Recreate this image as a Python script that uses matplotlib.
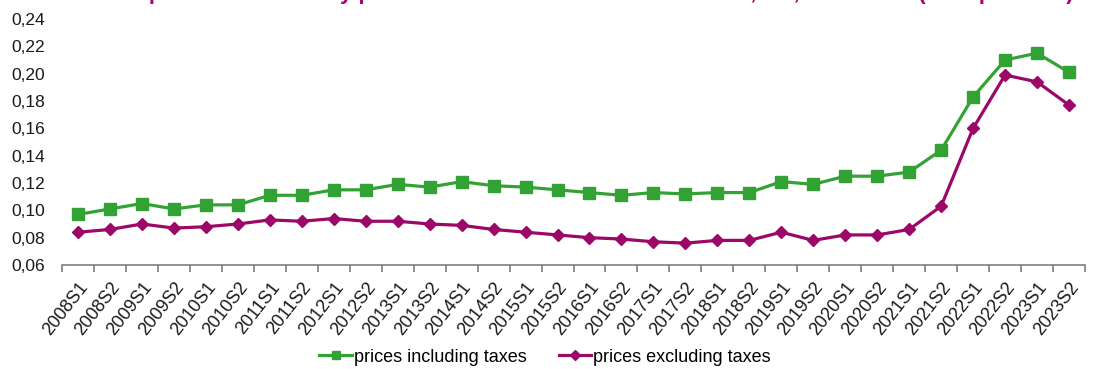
import matplotlib

matplotlib.use("Agg")
import matplotlib.pyplot as plt
from matplotlib.ticker import FixedLocator, FuncFormatter, MultipleLocator

plt.rcParams["font.family"] = ["Liberation Sans", "DejaVu Sans"]

periods = [f"{year}S{half}" for year in range(2008, 2024) for half in (1, 2)]

incl_taxes = [
    0.097, 0.101, 0.105, 0.101, 0.104, 0.104, 0.111, 0.111,
    0.115, 0.115, 0.119, 0.117, 0.121, 0.118, 0.117, 0.115,
    0.113, 0.111, 0.113, 0.112, 0.113, 0.113, 0.121, 0.119,
    0.125, 0.125, 0.128, 0.144, 0.183, 0.210, 0.215, 0.201,
]
excl_taxes = [
    0.084, 0.086, 0.090, 0.087, 0.088, 0.090, 0.093, 0.092,
    0.094, 0.092, 0.092, 0.090, 0.089, 0.086, 0.084, 0.082,
    0.080, 0.079, 0.077, 0.076, 0.078, 0.078, 0.084, 0.078,
    0.082, 0.082, 0.086, 0.103, 0.160, 0.199, 0.194, 0.177,
]

title = ("Development of electricity prices for non-household consumers, "
         "EU, 2008-2023 (EUR per kWh)")

GREEN = "#33a235"
PURPLE = "#9b0867"

W, H, DPI = 1094, 369, 100
fig = plt.figure(figsize=(W / DPI, H / DPI), dpi=DPI)
ax = fig.add_axes([62 / W, 1 - 265 / H, (1085 - 62) / W, (265 - 19) / H])

x = list(range(len(periods)))
ax.plot(x, incl_taxes, color=GREEN, lw=2.3, marker="s", ms=8.5,
        label="prices including taxes", zorder=3)
ax.plot(x, excl_taxes, color=PURPLE, lw=2.3, marker="D", ms=6.5,
        label="prices excluding taxes", zorder=3)

ax.set_xlim(-0.5, len(periods) - 0.5)
ax.set_ylim(0.06, 0.24)
ax.yaxis.set_major_locator(MultipleLocator(0.02))
ax.yaxis.set_major_formatter(FuncFormatter(lambda v, _: f"{v:.2f}".replace(".", ",")))

ax.set_xticks(x)
ax.set_xticklabels(periods, rotation=52, ha="right", rotation_mode="anchor")
ax.xaxis.set_minor_locator(FixedLocator([i - 0.5 for i in range(len(periods) + 1)]))
ax.tick_params(axis="x", which="major", length=0, pad=10, labelsize=13, colors="#1a1a1a")
ax.tick_params(axis="x", which="minor", length=5, width=1.2, color="#7f7f7f")
ax.tick_params(axis="y", length=0, pad=12, labelsize=12.5, colors="#1a1a1a")

for side in ("left", "right", "top"):
    ax.spines[side].set_visible(False)
ax.spines["bottom"].set_color("#7f7f7f")
ax.spines["bottom"].set_linewidth(1.2)

fig.legend(loc="center", bbox_to_anchor=(545 / W, 1 - 357 / H), ncol=2,
           frameon=False, fontsize=13, handlelength=1.8, handletextpad=0.1,
           columnspacing=1.8, markerscale=0.75)

# heading sits above the canvas; only its descenders reach the top edge
fig.text(76 / W, 1.0 + 1 / H, title, fontsize=16, fontweight="bold",
         color="#a8066f", ha="left", va="baseline")

fig.savefig("out.png", dpi=DPI)
